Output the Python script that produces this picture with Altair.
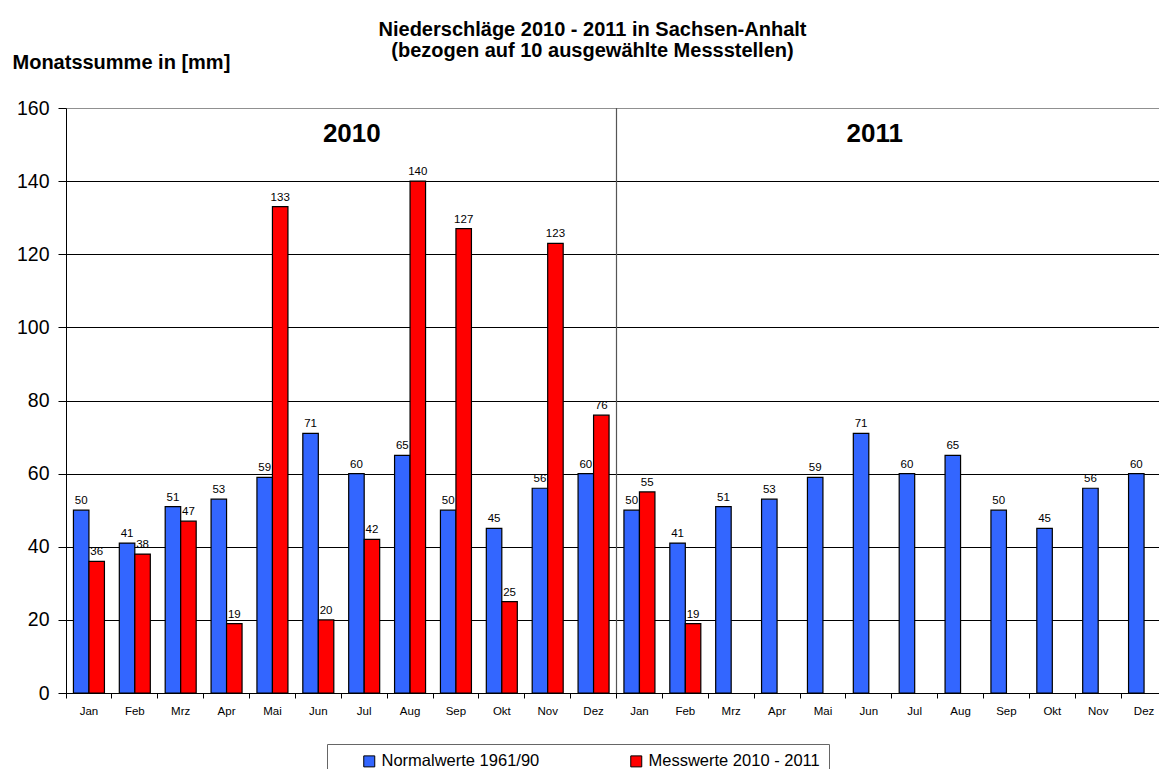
import altair as alt
import pandas as pd

# Monthly precipitation, Saxony-Anhalt (10 selected stations)
months = ["Jan", "Feb", "Mrz", "Apr", "Mai", "Jun", "Jul", "Aug", "Sep", "Okt", "Nov", "Dez"]
years = ["2010", "2011"]
normal_1961_90 = [50, 41, 51, 53, 59, 71, 60, 65, 50, 45, 56, 60]
measured_2010 = [36, 38, 47, 19, 133, 20, 42, 140, 127, 25, 123, 76]
measured_2011 = [55, 19]
series_names = ["Normalwerte 1961/90", "Messwerte 2010 - 2011"]
series_colors = ["#3366FF", "#FF0000"]

# year annotations: label, month slot it sits in, fraction across that slot
year_labels = ["2010", "2011"]
year_slots = ["Jul 2010", "Jun 2011"]
year_band_pos = [0.23, 0.63]
year_label_height = 153

FONT = "Liberation Sans"
W, H = 1101, 585

slots = [f"{m} {y}" for y in years for m in months]
rows = []
for i, slot in enumerate(slots):
    rows.append({"slot": slot, "series": series_names[0], "value": normal_1961_90[i % 12]})
for i, v in enumerate(measured_2010 + measured_2011):
    rows.append({"slot": slots[i], "series": series_names[1], "value": v})
df = pd.DataFrame(rows)

x_scale = alt.Scale(domain=slots, paddingInner=0, paddingOuter=0)
x_off_scale = alt.Scale(domain=series_names, paddingInner=0, paddingOuter=0.48)
y_scale = alt.Scale(domain=[0, 160], nice=False)

nbsp = "\u00a0"
legend_label_expr = (
    f"datum.label == '{series_names[1]}' ? datum.label + '{nbsp * 4}' : datum.label"
)

x_axis = alt.Axis(
    title=None,
    bandPosition=0,
    labelExpr="split(datum.label, ' ')[0]",
    labelAngle=0,
    labelFont=FONT,
    labelFontSize=11.5,
    labelColor="black",
    labelPadding=7,
    tickSize=5,
    tickColor="black",
    domainColor="black",
    grid=False,
)

y_axis = alt.Axis(
    title="Monatssumme in [mm]",
    titleAngle=0,
    titleAlign="left",
    titleBaseline="middle",
    titleX=-54,
    titleY=-46,
    titleFont=FONT,
    titleFontSize=20,
    titleFontWeight="bold",
    titleColor="black",
    values=[0, 20, 40, 60, 80, 100, 120, 140, 160],
    labelFont=FONT,
    labelFontSize=19.5,
    labelColor="black",
    labelPadding=9,
    tickSize=8,
    tickColor="black",
    domainColor="black",
    grid=True,
    gridColor={"condition": {"test": "datum.value === 160", "value": "#909090"}, "value": "#000000"},
    gridWidth=1,
)

base = alt.Chart(df)

bars = base.mark_bar(stroke="black", strokeWidth=1.2).encode(
    x=alt.X("slot:N", scale=x_scale, sort=slots, axis=x_axis),
    xOffset=alt.XOffset("series:N", scale=x_off_scale, sort=series_names),
    y=alt.Y("value:Q", scale=y_scale, axis=y_axis),
    color=alt.Color(
        "series:N",
        scale=alt.Scale(domain=series_names, range=series_colors),
        legend=alt.Legend(
            orient="none",
            legendX=261,
            legendY=636,
            direction="horizontal",
            title=None,
            symbolType="square",
            symbolSize=121,
            symbolStrokeColor="black",
            symbolStrokeWidth=1,
            labelFont=FONT,
            labelFontSize=16.5,
            labelColor="black",
            labelOffset=4,
            labelLimit=400,
            labelExpr=legend_label_expr,
            columnPadding=63,
            padding=9,
            symbolOffset=25,
            strokeColor="#666666",
            fillColor="white",
        ),
    ),
)

value_labels = base.mark_text(
    baseline="alphabetic", dy=-6, font=FONT, fontSize=11.5, color="black"
).encode(
    x=alt.X("slot:N", scale=x_scale, sort=slots),
    xOffset=alt.XOffset("series:N", scale=x_off_scale, sort=series_names),
    y=alt.Y("value:Q", scale=y_scale),
    text=alt.Text("value:Q"),
)

# vertical separator between the two years
divider = alt.Chart(pd.DataFrame({"slot": ["Jan 2011"]})).mark_rule(
    color="#555555", strokeWidth=1.2
).encode(
    x=alt.X("slot:N", scale=x_scale, sort=slots, bandPosition=0),
    y=alt.datum(0),
    y2=alt.datum(160),
)

year_layers = []
for label, slot, bp in zip(year_labels, year_slots, year_band_pos):
    year_layers.append(
        alt.Chart(pd.DataFrame({"slot": [slot], "label": [label]})).mark_text(
            font=FONT, fontSize=26, fontWeight="bold", color="black", baseline="middle"
        ).encode(
            x=alt.X("slot:N", scale=x_scale, sort=slots, bandPosition=bp),
            y=alt.datum(year_label_height),
            text="label:N",
        )
    )

chart = alt.layer(bars, value_labels, divider, *year_layers).properties(
    width=W,
    height=H,
    autosize=alt.AutoSizeParams(type="none"),
    padding={"left": 66, "top": 108, "right": -8, "bottom": 76},
    title=alt.TitleParams(
        text=["Niederschläge 2010 - 2011 in Sachsen-Anhalt", "(bezogen auf 10 ausgewählte Messstellen)"],
        font=FONT,
        fontSize=20,
        fontWeight="bold",
        color="black",
        anchor="middle",
        dx=-24,
        offset=-9,
        lineHeight=21,
    ),
).configure_view(stroke=None).configure(background="white")

chart.save("out.html", embed_options={"renderer": "svg", "actions": False})
